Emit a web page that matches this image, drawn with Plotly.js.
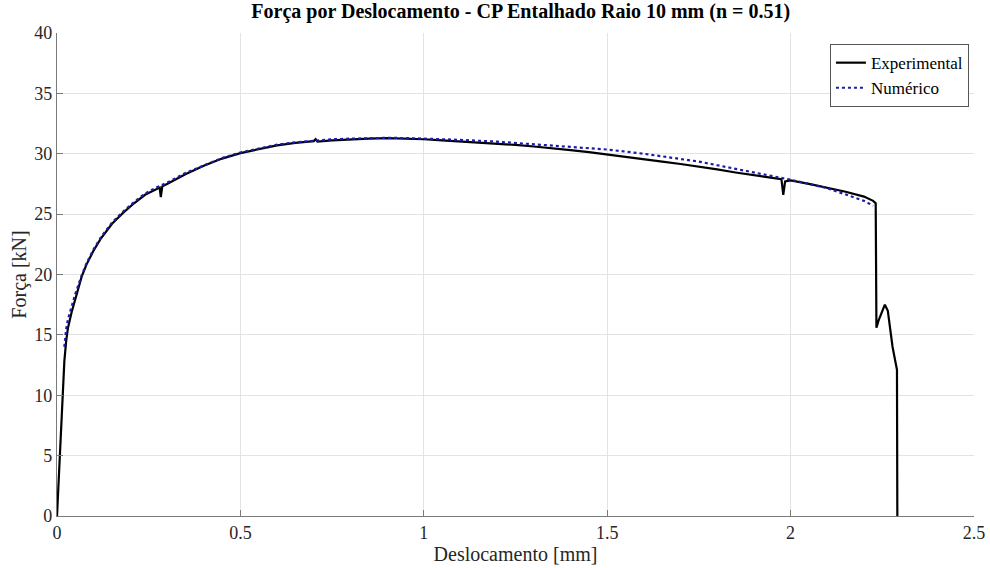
<!DOCTYPE html>
<html>
<head>
<meta charset="utf-8">
<script src="https://cdn.plot.ly/plotly-3.0.1.min.js"></script>
<style>html,body{margin:0;padding:0;background:#fff;}#chart{width:990px;height:568px;}</style>
</head>
<body>
<div id="chart"></div>
<script>
// Experimental series (displacement mm, force kN)
const expX = [0, 0.005, 0.01, 0.015, 0.02, 0.025, 0.03, 0.04, 0.05, 0.067, 0.08, 0.1, 0.12, 0.15, 0.18, 0.21, 0.24, 0.27, 0.28, 0.283, 0.287, 0.3, 0.35, 0.4, 0.45, 0.5, 0.55, 0.6, 0.65, 0.7, 0.705, 0.71, 0.75, 0.8, 0.85, 0.9, 0.95, 1.0, 1.05, 1.1, 1.15, 1.2, 1.25, 1.3, 1.35, 1.4, 1.45, 1.5, 1.55, 1.6, 1.65, 1.7, 1.75, 1.8, 1.85, 1.9, 1.95, 1.975, 1.98, 1.985, 2.0, 2.05, 2.1, 2.15, 2.2, 2.225, 2.232, 2.234, 2.24, 2.257, 2.265, 2.278, 2.29, 2.291];
const expY = [0, 3.3, 6.7, 10, 12.8, 14.5, 15.6, 16.9, 18.0, 19.8, 20.8, 22.0, 23.0, 24.2, 25.1, 25.9, 26.6, 27.1, 27.2, 26.4, 27.3, 27.5, 28.3, 29.0, 29.6, 30.05, 30.4, 30.7, 30.9, 31.05, 31.2, 31.0, 31.1, 31.2, 31.25, 31.3, 31.27, 31.2, 31.1, 31.02, 30.93, 30.84, 30.73, 30.6, 30.47, 30.3, 30.13, 29.95, 29.75, 29.55, 29.35, 29.15, 28.95, 28.7, 28.45, 28.2, 28.0, 27.9, 26.6, 27.7, 27.8, 27.5, 27.2, 26.85, 26.45, 26.1, 25.9, 15.6, 16.2, 17.5, 17.0, 14.0, 12.1, 0];
// Numerical series
const numX = [0.02, 0.025, 0.03, 0.04, 0.05, 0.067, 0.08, 0.1, 0.12, 0.15, 0.18, 0.21, 0.24, 0.27, 0.3, 0.35, 0.4, 0.45, 0.5, 0.55, 0.6, 0.65, 0.7, 0.75, 0.8, 0.85, 0.9, 0.95, 1.0, 1.1, 1.2, 1.3, 1.4, 1.5, 1.6, 1.7, 1.75, 1.8, 1.9, 2.0, 2.1, 2.2, 2.225];
const numY = [14.0, 15.5, 16.3, 17.4, 18.4, 19.9, 20.9, 22.1, 23.1, 24.3, 25.2, 26.0, 26.7, 27.2, 27.6, 28.4, 29.05, 29.65, 30.1, 30.45, 30.75, 30.95, 31.1, 31.2, 31.25, 31.3, 31.32, 31.3, 31.27, 31.15, 31.0, 30.8, 30.55, 30.35, 30.0, 29.6, 29.35, 29.05, 28.45, 27.85, 27.15, 26.1, 25.7];

const xTicks = [0, 0.5, 1, 1.5, 2, 2.5];
const xTickText = ['0', '0.5', '1', '1.5', '2', '2.5'];
const yTicks = [0, 5, 10, 15, 20, 25, 30, 35, 40];

const font = 'Liberation Serif, Times New Roman, serif';

const traces = [
  {x: expX, y: expY, type: 'scatter', mode: 'lines', name: 'Experimental',
   line: {color: '#000000', width: 2.2}},
  {x: numX, y: numY, type: 'scatter', mode: 'lines', name: 'Numérico',
   line: {color: '#1c1ca8', width: 2.2, dash: 'dot'}}
];

const layout = {
  width: 990, height: 568,
  margin: {l: 57, r: 16, t: 33, b: 52},
  paper_bgcolor: '#ffffff', plot_bgcolor: '#ffffff',
  font: {family: font, size: 18, color: '#262626'},
  title: {text: '<b>Força por Deslocamento - CP Entalhado Raio 10 mm (n = 0.51)</b>',
          font: {family: font, size: 20, color: '#000'}, x: 0.526, xanchor: 'center', y: 0.993, yanchor: 'top'},
  xaxis: {range: [0, 2.5], tickvals: xTicks, ticktext: xTickText, showgrid: true, gridcolor: '#e3e3e3',
          zeroline: false, showline: true, linecolor: '#7a7a7a', linewidth: 1.2, ticks: 'inside', ticklen: 6, tickcolor: '#7a7a7a',
          title: {text: 'Deslocamento [mm]', font: {family: font, size: 20, color: '#262626'}, standoff: 2},
          tickfont: {family: font, size: 18, color: '#262626'}},
  yaxis: {range: [0, 40], tickvals: yTicks, showgrid: true, gridcolor: '#e3e3e3',
          zeroline: false, showline: true, linecolor: '#7a7a7a', linewidth: 1.2, ticks: 'inside', ticklen: 6, tickcolor: '#7a7a7a',
          title: {text: 'Força [kN]', font: {family: font, size: 20, color: '#262626'}, standoff: 2},
          tickfont: {family: font, size: 18, color: '#262626'}},
  showlegend: true,
  legend: {x: 0.9945, xanchor: 'right', y: 0.977, yanchor: 'top', bgcolor: '#ffffff',
           bordercolor: '#555', borderwidth: 1, font: {family: font, size: 17, color: '#000'},
           tracegroupgap: 0, itemwidth: 30}
};

Plotly.newPlot('chart', traces, layout, {displayModeBar: false, staticPlot: true});
</script>
</body>
</html>
